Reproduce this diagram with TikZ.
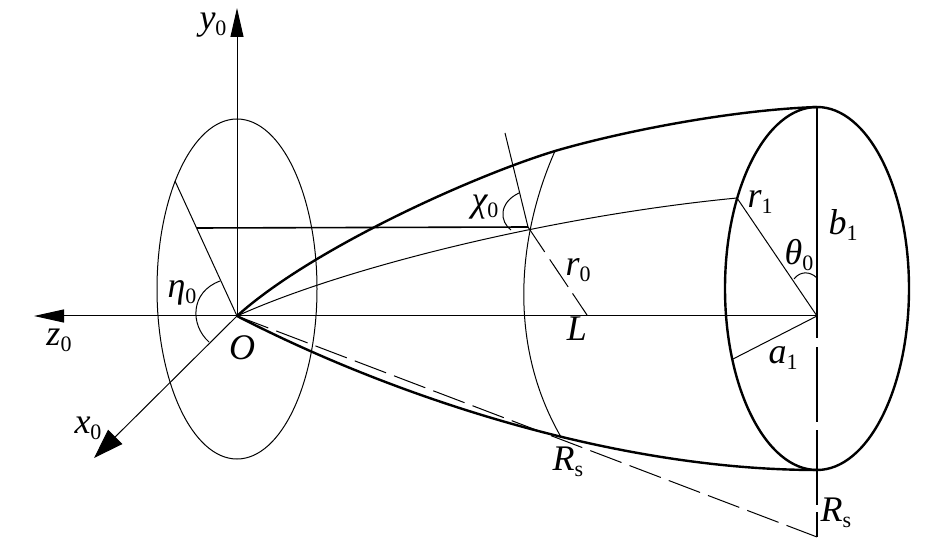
\documentclass[tikz,border=0pt]{standalone}
\usepackage{fontspec}
\setmainfont{Liberation Serif}
\usetikzlibrary{arrows.meta}
\newcommand{\lab}[2]{{\fontsize{36}{36}\selectfont\itshape #1}\raisebox{-6pt}{\fontsize{22}{22}\selectfont #2}}
\tikzset{
thin line/.style={line width=1pt},
mid line/.style={line width=1.6pt},
thick line/.style={line width=2.4pt},
lbl/.style={inner sep=0pt,anchor=center},
}
\begin{document}
\begin{tikzpicture}[x=1pt,y=-1pt]
\useasboundingbox (0,0) rectangle (945,545);
\coordinate (O) at (237,316);
\coordinate (c) at (817,316);
\coordinate (zt) at (34,316);
\coordinate (yt) at (237,8);
\coordinate (xt) at (94,458);
\coordinate (top) at (817,107);
\coordinate (bot) at (817,470);
\coordinate (end) at (817,537);
\coordinate (up) at (555,151);
\coordinate (lo) at (561,437);
\coordinate (j) at (528,227);
\coordinate (p) at (197,228);
\coordinate (e) at (175,181);
\coordinate (n) at (505,133);
\coordinate (q) at (587,315);
\coordinate (r) at (737,198);
\coordinate (a) at (733,359);
% axes
\draw[thin line,-{Triangle[length=30pt,width=13pt]}] (c) -- (zt);
\draw[thin line,-{Triangle[length=29pt,width=13pt]}] (O) -- (yt);
\draw[thin line,-{Triangle[length=30pt,width=20pt]}] (O) -- (xt);
% ellipses
\draw[thin line] (237,289) ellipse [x radius=80,y radius=170];
\draw[thick line] (817,288.5) ellipse [x radius=92,y radius=181.5];
% surface
\draw[thick line] (O) .. controls (310,250) and (470,177) .. (up) .. controls (620,132) and (730,110) .. (top);
\draw[thick line] (O) .. controls (400,400) and (620,470) .. (bot);
\draw[thin line] (O) .. controls (350,265) and (560,215) .. (r);
\draw[thin line] (up) .. controls (520,230) and (505,340) .. (lo);
% lines
\draw[thin line] (O) -- (e);
\draw[mid line] (p) -- (j);
\draw[thin line] (n) -- (j);
\draw[thin line,dash pattern=on 30pt off 9pt on 33pt off 8pt on 33pt off 8pt] (j) -- (q);
\draw[thin line] (r) -- (c) -- (a);
\draw[mid line,dash pattern=on 231pt off 9pt on 75pt off 8pt on 75pt off 7pt on 25pt] (top) -- (end);
\draw[thin line,dash pattern=on 33.5pt off 8.5pt] (O) -- (end);
% angles
\draw[thin line] (519,193) .. controls (498,203) and (500,222) .. (511,230);
\draw[thin line] (220,281) .. controls (190,292) and (190,325) .. (209,342);
\draw[thin line] (794,279) .. controls (800,271) and (810,271) .. (817,278);
% labels
\node[lbl] (ly) at (213,25) {\lab{y}{0}};
\node[lbl] (lz) at (59,340) {\lab{z}{0}};
\node[lbl] (lx) at (88,428) {\lab{x}{0}};
\node[lbl] (lO) at (242,351) {\lab{O}{}};
\node[lbl] (leta) at (182,293) {\lab{η}{0}};
\node[lbl] (lchi) at (485,207) {\lab{χ}{0}};
\node[lbl] (lr0) at (578,270) {\lab{r}{0}};
\node[lbl] (lL) at (577,332) {\lab{L}{}};
\node[lbl] (lr1) at (760,202) {\lab{r}{1}};
\node[lbl] (lb) at (843,225) {\lab{b}{1}};
\node[lbl] (lth) at (799,255) {\lab{θ}{0}};
\node[lbl] (la) at (783,358) {\lab{a}{1}};
\node[lbl] (lR) at (568,462) {\lab{R}{s}};
\node[lbl] (lRr) at (836,513) {\lab{R}{s}};
\end{tikzpicture}
\end{document}
